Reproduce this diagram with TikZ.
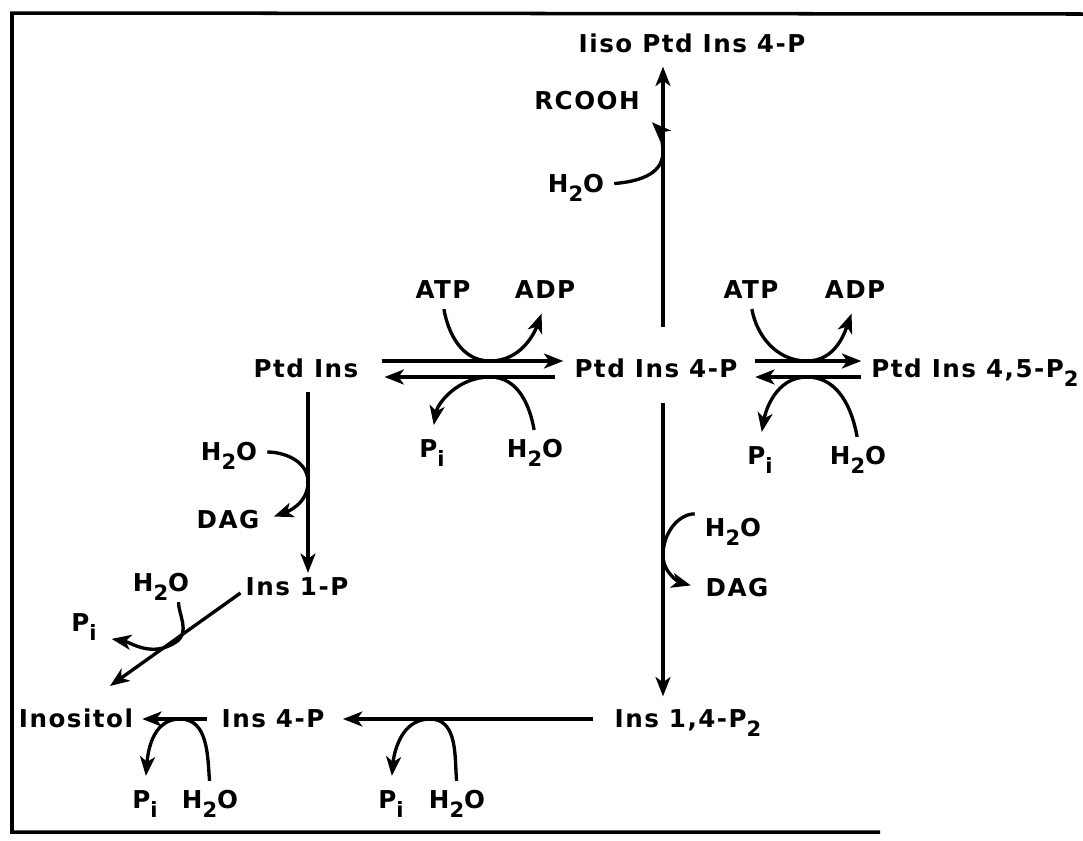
\documentclass[tikz,border=0pt]{standalone}
\usepackage{fontspec}
\newfontfamily\chemfont{DejaVu Sans}[LetterSpace=6]
\usetikzlibrary{arrows.meta}
\newcommand{\chsub}[1]{\raisebox{-4.8pt}{\fontsize{12}{12}\selectfont #1}}

\begin{document}
\begin{tikzpicture}[
    x=0.02cm, y=-0.02cm,
    chem/.style={inner sep=2pt, text height=10.2pt, text depth=0pt,
                 font=\chemfont\bfseries\fontsize{14}{17}\selectfont},
    >={Stealth[length=11pt,width=8.5pt,inset=3pt]},
    line width=1.9pt,
    side/.style={->, shorten <=0.1cm, shorten >=0.2cm},
    frame/.style={line width=2pt}
]
\useasboundingbox (0,0) rectangle (1083,840);
\draw[frame] (1083,14) -- (12,13) -- (12,832) -- (880,832);

% top branch
\node[chem] (lyso)  at (692,44)  {Iiso Ptd Ins 4-P};
\node[chem] (rcooh) at (587,101) {RCOOH};
\node[chem] (w0)    at (576,184) {H\chsub{2}O};

% kinase steps
\node[chem] (atpa) at (443,290) {ATP};
\node[chem] (adpa) at (545,290) {ADP};
\node[chem] (atpb) at (751,290) {ATP};
\node[chem] (adpb) at (855,290) {ADP};

\node[chem] (ptdins) at (306,369) {Ptd Ins};
\node[chem] (pi4p)   at (656,369) {Ptd Ins 4-P};
\node[chem] (pip2)   at (975,369) {Ptd Ins 4,5-P\chsub{2}};

\node[chem] (pia) at (432,449) {P\chsub{i}};
\node[chem] (wa)  at (535,449) {H\chsub{2}O};
\node[chem] (pib) at (760,456) {P\chsub{i}};
\node[chem] (wb)  at (858,456) {H\chsub{2}O};

% phospholipase C
\node[chem] (wc)   at (229,452) {H\chsub{2}O};
\node[chem] (dagc) at (228,520) {DAG};
\node[chem] (wd)   at (733,528) {H\chsub{2}O};
\node[chem] (dagd) at (737,588) {DAG};

% inositol phosphates
\node[chem] (ins1p) at (297,587) {Ins 1-P};
\node[chem] (we)    at (161,583) {H\chsub{2}O};
\node[chem] (pie)   at (84,623)  {P\chsub{i}};

\node[chem] (inos)  at (76,719)  {Inositol};
\node[chem] (ins4p) at (273,719) {Ins 4-P};
\node[chem] (ins14) at (688,719) {Ins 1,4-P\chsub{2}};

\node[chem] (pif) at (145,800) {P\chsub{i}};
\node[chem] (wf)  at (210,800) {H\chsub{2}O};
\node[chem] (pig) at (391,800) {P\chsub{i}};
\node[chem] (wg)  at (457,800) {H\chsub{2}O};

\coordinate (vx) at (663,0);
\coordinate (lx) at (308,0);
\coordinate (tr) at (663,152);
\coordinate (ta) at (490,361);
\coordinate (ba) at (490,377);
\coordinate (tb) at (807,361);
\coordinate (bb) at (807,377);
\coordinate (tc) at (308,482);
\coordinate (td) at (663,555);
\coordinate (te) at (176,642);
\coordinate (tf) at (180,719);
\coordinate (tg) at (430,719);

% main reactions
\draw[->, shorten <=0.56cm, shorten >=0.17cm] (pi4p.north -| vx) -- (lyso.south -| vx);
\draw[->, shorten <=0.4cm, shorten >=0.17cm] (pi4p.south -| vx) -- (ins14.north -| vx);
\draw[->, shorten <=0.17cm] (ptdins.south -| lx) -- (ins1p.north -| lx);

\draw[->, shorten <=0.36cm, shorten >=0.12cm] ([yshift=0.16cm]ptdins.east) -- ([yshift=0.16cm]pi4p.west);
\draw[->, shorten <=0.29cm, shorten >=0.42cm] ([yshift=-0.16cm]pi4p.west) -- ([yshift=-0.16cm]ptdins.east);
\draw[->, shorten <=0.25cm, shorten >=0.1cm] ([yshift=0.16cm]pi4p.east) -- ([yshift=0.16cm]pip2.west);
\draw[->, shorten <=0.1cm, shorten >=0.25cm] ([yshift=-0.16cm]pip2.west) -- ([yshift=-0.16cm]pi4p.east);

\draw[->, shorten <=0.33cm, shorten >=0.27cm] (ins14.west) -- (ins4p.east);
\draw[->, shorten <=0.2cm, shorten >=0.08cm] (ins4p.west) -- (inos.east);
\draw[->, shorten >=0.65cm] ([yshift=-0.12cm]ins1p.west) -- ([xshift=0.15cm]inos.north);

% side substrates and products
\draw[side] (w0.east) to[out=5,in=-90] (tr) to[out=90,in=-45] (rcooh.south east);
\draw[side] (atpa.south) to[out=-80,in=180] (ta) to[out=0,in=-110] (adpa.south);
\draw[side] (wa.north) to[out=100,in=0] (ba) to[out=180,in=80] (pia.north);
\draw[side] (atpb.south) to[out=-80,in=180] (tb) to[out=0,in=-110] (adpb.south);
\draw[side] (wb.north) to[out=100,in=0] (bb) to[out=180,in=80] (pib.north);
\draw[side] (wc.east) to[out=0,in=90] (tc) to[out=-90,in=20] (dagc.east);
\draw[side] (wd.north west) to[out=180,in=90] (td) to[out=-90,in=165] (dagd.west);
\draw[side] ([xshift=0.35cm]we.south) to[out=-90,in=34] (te) to[out=214,in=-10] (pie.south east);
\draw[side] (wf.north) to[out=95,in=0] (tf) to[out=180,in=85] (pif.north);
\draw[side] (wg.north) to[out=95,in=0] (tg) to[out=180,in=85] (pig.north);
\end{tikzpicture}
\end{document}
